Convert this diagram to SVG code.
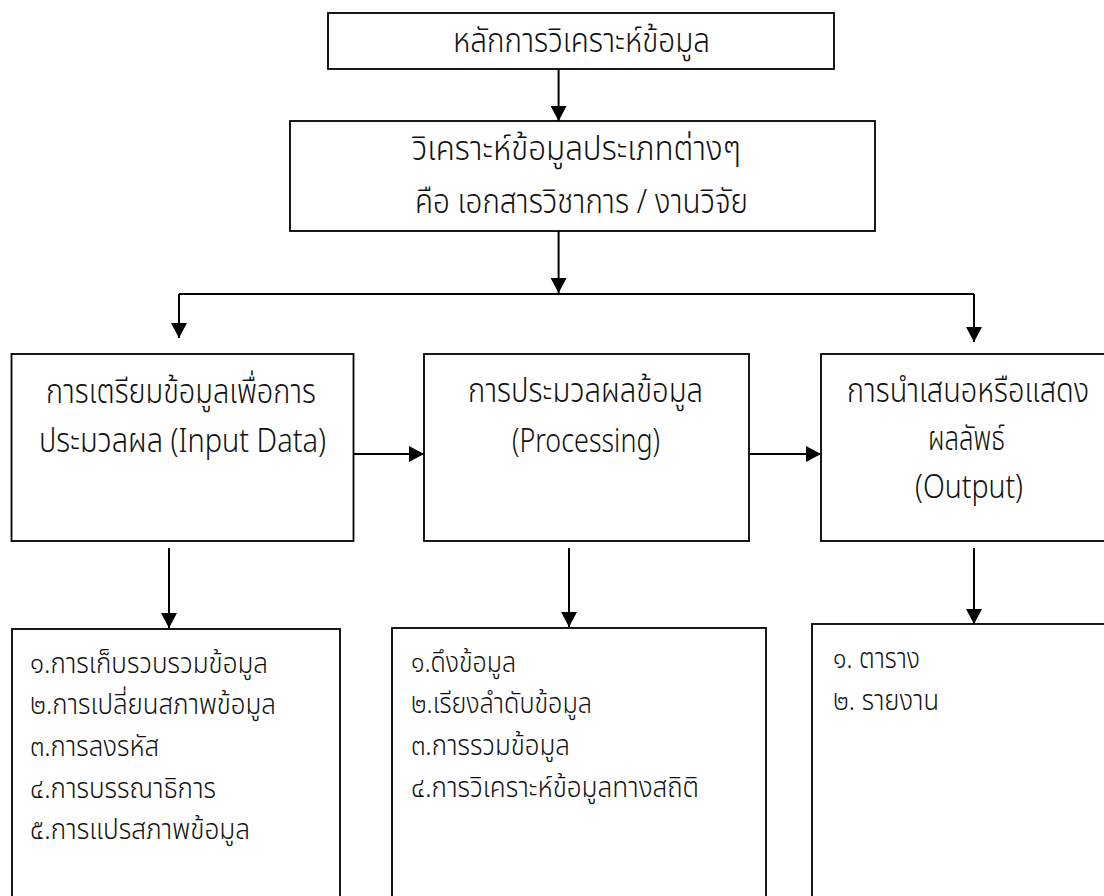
<svg xmlns="http://www.w3.org/2000/svg" width="1104" height="896" viewBox="0 0 1104 896">
<style>
  .box { fill: #ffffff; stroke: #000000; stroke-width: 1.8; }
  .con { fill: none; stroke: #000000; stroke-width: 2; }
  text { font-family: "Noto Sans Thai", "Leelawadee UI", "Tahoma", "DejaVu Sans", sans-serif; font-size: 33px; font-weight: 300; fill: #111111; }
  text.item { font-size: 28px; }
</style>
<defs>
  <marker id="arrow" viewBox="0 0 15 16" refX="15" refY="8" markerWidth="15" markerHeight="16" orient="auto" markerUnits="userSpaceOnUse">
    <path d="M0,0 L15,8 L0,16 Z" fill="#000000"/>
  </marker>
</defs>
<rect x="0" y="0" width="1104" height="896" fill="#ffffff"/>

<g id="connectors">
  <path class="con" d="M558.6,69 V121" marker-end="url(#arrow)"/>
  <path class="con" d="M558.6,231 V293" marker-end="url(#arrow)"/>
  <path class="con" d="M179,294 H974"/>
  <path class="con" d="M179,294 V338" marker-end="url(#arrow)"/>
  <path class="con" d="M974,294 V342" marker-end="url(#arrow)"/>
  <path class="con" d="M353.6,454 H424" marker-end="url(#arrow)"/>
  <path class="con" d="M749,454 H821" marker-end="url(#arrow)"/>
  <path class="con" d="M169,548 V628" marker-end="url(#arrow)"/>
  <path class="con" d="M569,548 V627" marker-end="url(#arrow)"/>
  <path class="con" d="M974,548 V624" marker-end="url(#arrow)"/>
</g>

<g id="node-principle">
  <rect class="box" x="328" y="13" width="506" height="56"/>
  <text x="453" y="52" textLength="257" lengthAdjust="spacingAndGlyphs">หลักการวิเคราะห์ข้อมูล</text>
</g>

<g id="node-types">
  <rect class="box" x="290" y="121" width="585" height="110"/>
  <text x="412" y="160" textLength="329" lengthAdjust="spacingAndGlyphs">วิเคราะห์ข้อมูลประเภทต่างๆ</text>
  <text x="415" y="213" textLength="333" lengthAdjust="spacingAndGlyphs">คือ เอกสารวิชาการ / งานวิจัย</text>
</g>

<g id="node-input">
  <rect class="box" x="11.5" y="354" width="342" height="187"/>
  <text x="46" y="403" textLength="270" lengthAdjust="spacingAndGlyphs">การเตรียมข้อมูลเพื่อการ</text>
  <text x="39" y="452" textLength="287" lengthAdjust="spacingAndGlyphs">ประมวลผล (Input Data)</text>
</g>

<g id="node-processing">
  <rect class="box" x="424" y="354" width="325" height="187"/>
  <text x="468" y="402" textLength="235" lengthAdjust="spacingAndGlyphs">การประมวลผลข้อมูล</text>
  <text x="512" y="452" textLength="148" lengthAdjust="spacingAndGlyphs">(Processing)</text>
</g>

<g id="node-output">
  <rect class="box" x="821" y="354" width="300" height="187"/>
  <text x="847" y="402" textLength="242" lengthAdjust="spacingAndGlyphs">การนำเสนอหรือแสดง</text>
  <text x="928" y="450" textLength="77" lengthAdjust="spacingAndGlyphs">ผลลัพธ์</text>
  <text x="915" y="498" textLength="108" lengthAdjust="spacingAndGlyphs">(Output)</text>
</g>

<g id="node-input-steps">
  <rect class="box" x="12" y="629" width="328" height="300"/>
  <text class="item" x="30" y="673" textLength="238" lengthAdjust="spacingAndGlyphs">๑.การเก็บรวบรวมข้อมูล</text>
  <text class="item" x="30" y="714" textLength="246" lengthAdjust="spacingAndGlyphs">๒.การเปลี่ยนสภาพข้อมูล</text>
  <text class="item" x="30" y="756" textLength="129" lengthAdjust="spacingAndGlyphs">๓.การลงรหัส</text>
  <text class="item" x="30" y="798" textLength="186" lengthAdjust="spacingAndGlyphs">๔.การบรรณาธิการ</text>
  <text class="item" x="30" y="839" textLength="220" lengthAdjust="spacingAndGlyphs">๕.การแปรสภาพข้อมูล</text>
</g>

<g id="node-processing-steps">
  <rect class="box" x="392" y="628" width="374" height="300"/>
  <text class="item" x="411" y="672" textLength="105" lengthAdjust="spacingAndGlyphs">๑.ดึงข้อมูล</text>
  <text class="item" x="411" y="713" textLength="181" lengthAdjust="spacingAndGlyphs">๒.เรียงลำดับข้อมูล</text>
  <text class="item" x="411" y="755" textLength="159" lengthAdjust="spacingAndGlyphs">๓.การรวมข้อมูล</text>
  <text class="item" x="411" y="797" textLength="288" lengthAdjust="spacingAndGlyphs">๔.การวิเคราะห์ข้อมูลทางสถิติ</text>
</g>

<g id="node-output-steps">
  <rect class="box" x="812" y="624" width="310" height="300"/>
  <text class="item" x="833" y="668" textLength="87" lengthAdjust="spacingAndGlyphs">๑. ตาราง</text>
  <text class="item" x="833" y="710" textLength="106" lengthAdjust="spacingAndGlyphs">๒. รายงาน</text>
</g>
</svg>
